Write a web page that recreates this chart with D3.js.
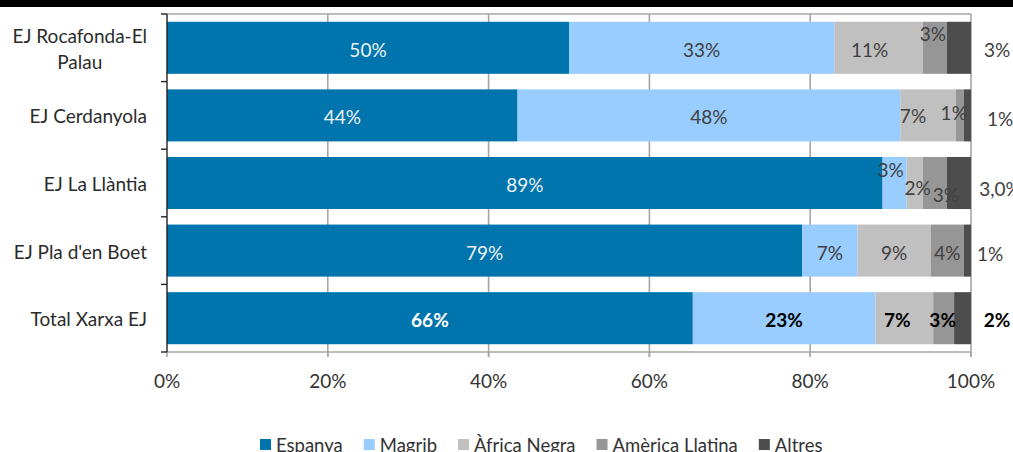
<!DOCTYPE html>
<html>
<head>
<meta charset="utf-8">
<script src="https://cdn.jsdelivr.net/npm/d3@7"></script>
<style>
  html, body { margin: 0; padding: 0; background: #fff; overflow: hidden; }
  svg { display: block; font-family: Lato, "Open Sans", sans-serif; }
</style>
</head>
<body>
<svg id="chart" width="1013" height="452"></svg>
<script>
// data (percent of each school's pupils)
var categories = ["EJ Rocafonda-El Palau", "EJ Cerdanyola", "EJ La Llàntia", "EJ Pla d'en Boet", "Total Xarxa EJ"];
var series = ["Espanya", "Magrib", "Àfrica Negra", "Amèrica Llatina", "Altres"];
var espanya = [50, 43.6, 89, 79, 65.4];
var magrib = [33, 47.6, 3, 6.9, 22.7];
var africaNegra = [11, 6.9, 2, 9.1, 7.2];
var americaLlatina = [3, 1.0, 3, 4.1, 2.6];
var altres = [3, 0.9, 3, 0.9, 2.1];
var labelText = [
	["50%", "33%", "11%", "3%", "3%"],
	["44%", "48%", "7%", "1%", "1%"],
	["89%", "3%", "2%", "3%", "3,0%"],
	["79%", "7%", "9%", "4%", "1%"],
	["66%", "23%", "7%", "3%", "2%"]
];
var xTicks = [0, 0.2, 0.4, 0.6, 0.8, 1];

var colors = ["#0074ad", "#99ccff", "#c0c0c0", "#969696", "#4d4d4d"];
// hand placed labels in the original (dx, dy)
var nudge = [
	[[0, 0], [0, 0], [-9, 0], [-2, -16], [0, 0]],
	[[0, 0], [0, 0], [-15, -1], [-6, -4], [3, 2]],
	[[0, 0], [-4, -15], [3, 3], [11, 10], [3, 4]],
	[[0, 0], [0, 0], [0, 0], [0, 0], [-7, 1]],
	[[0, 0], [0, 0], [-7, 0], [-1, 0], [0, 0]]
];

var svg = d3.select("#chart");
var margin = {top: 14, left: 167, right: 42, bottom: 100};
var width = 1013 - margin.left - margin.right,
	height = 452 - margin.top - margin.bottom;

// black strip over the top of the picture
svg.append("rect").attr("x", 0).attr("y", 0).attr("width", 1013).attr("height", 7).attr("fill", "#000");

var x = d3.scaleLinear().domain([0, 1]).range([margin.left, margin.left + width]);
var y = d3.scaleBand().domain(categories).range([margin.top, margin.top + height])
	.paddingInner(0.23).paddingOuter(0.115);

var rows = categories.map(function(c, i) {
	var r = {category: c};
	r[series[0]] = espanya[i];
	r[series[1]] = magrib[i];
	r[series[2]] = africaNegra[i];
	r[series[3]] = americaLlatina[i];
	r[series[4]] = altres[i];
	return r;
});
var stack = d3.stack().keys(series).value(function(d, k) { return d[k] / 100; });
var layers = stack(rows);

// gridlines + frame
var grid = svg.append("g");
grid.selectAll("line.v").data(xTicks.slice(1)).enter().append("line")
	.attr("x1", function(d) { return x(d); }).attr("x2", function(d) { return x(d); })
	.attr("y1", margin.top).attr("y2", margin.top + height + 5)
	.attr("stroke", "#a6a6a6").attr("stroke-width", 1.6);
grid.append("line").attr("x1", x(0)).attr("x2", x(1)).attr("y1", margin.top).attr("y2", margin.top)
	.attr("stroke", "#a6a6a6").attr("stroke-width", 1.6);

// bars
layers.forEach(function(layer, si) {
	svg.append("g").attr("fill", colors[si]).selectAll("rect").data(layer).enter().append("rect")
		.attr("x", function(d) { return x(d[0]); })
		.attr("width", function(d) { return x(d[1]) - x(d[0]); })
		.attr("y", function(d) { return y(d.data.category); })
		.attr("height", y.bandwidth());
});

// bottom axis
svg.append("line").attr("x1", x(0)).attr("x2", x(1)).attr("y1", margin.top + height).attr("y2", margin.top + height)
	.attr("stroke", "#a6a6a6").attr("stroke-width", 1.6);
svg.append("g").selectAll("line").data(xTicks).enter().append("line")
	.attr("x1", function(d) { return x(d); }).attr("x2", function(d) { return x(d); })
	.attr("y1", margin.top + height).attr("y2", margin.top + height + 5)
	.attr("stroke", "#a6a6a6").attr("stroke-width", 1.6);
svg.append("g").selectAll("text").data(xTicks).enter().append("text")
	.attr("x", function(d) { return x(d); })
	.attr("y", margin.top + height + 36)
	.attr("text-anchor", "middle").attr("font-size", 19).attr("fill", "#333")
	.text(d3.format(".0%"));

// left axis, ticks between categories
var boundaries = d3.range(categories.length + 1).map(function(i) { return margin.top + i * height / categories.length; });
svg.append("line").attr("x1", x(0)).attr("x2", x(0)).attr("y1", margin.top).attr("y2", margin.top + height)
	.attr("stroke", "#222").attr("stroke-width", 1.4);
svg.append("g").selectAll("line").data(boundaries).enter().append("line")
	.attr("x1", x(0) - 6).attr("x2", x(0)).attr("y1", function(d) { return d; }).attr("y2", function(d) { return d; })
	.attr("stroke", "#222").attr("stroke-width", 1.4);

// category labels (first one wraps on two lines, centred on itself)
categories.forEach(function(c, i) {
	var cy = y(c) + y.bandwidth() / 2;
	var t = svg.append("text").attr("font-size", 19).attr("fill", "#2b2b2b");
	if (i === 0) {
		var lines = ["EJ Rocafonda-El", "Palau"];
		t.attr("text-anchor", "middle");
		t.append("tspan").attr("x", 0).attr("y", cy - 5).text(lines[0]);
		t.append("tspan").attr("x", 0).attr("y", cy + 21).text(lines[1]);
		var w = t.node().getBBox().width;
		t.selectAll("tspan").attr("x", 147 - w / 2);
	} else {
		t.attr("text-anchor", "end").attr("x", 147).attr("y", cy + 8).text(c);
	}
});

// data labels
layers.forEach(function(layer, si) {
	svg.append("g").selectAll("text").data(layer).enter().append("text")
		.attr("x", function(d, i) {
			var cx = si === 4 ? x(1) + 26 : (x(d[0]) + x(d[1])) / 2;
			return cx + nudge[i][si][0];
		})
		.attr("y", function(d, i) { return y(d.data.category) + y.bandwidth() / 2 + 9 + nudge[i][si][1]; })
		.attr("text-anchor", "middle")
		.attr("font-size", 19)
		.attr("font-weight", function(d, i) { return i === 4 ? "bold" : null; })
		.attr("fill", function(d, i) { return si === 0 ? (i === 4 ? "#fff" : "#eef2f6") : (i === 4 ? "#000" : "#404040"); })
		.text(function(d, i) { return labelText[i][si]; });
});

// legend
var legend = svg.append("g").attr("transform", "translate(0,444)");
var lx = 260;
series.forEach(function(s, i) {
	var g = legend.append("g").attr("transform", "translate(" + lx + ",0)");
	g.append("rect").attr("x", 0).attr("y", -5).attr("width", 11).attr("height", 11).attr("fill", colors[i]);
	var t = g.append("text").attr("x", 16).attr("y", 8).attr("font-size", 18.5).attr("fill", "#333").text(s);
	lx += 16 + t.node().getComputedTextLength() + 21;
});
</script>
</body>
</html>
